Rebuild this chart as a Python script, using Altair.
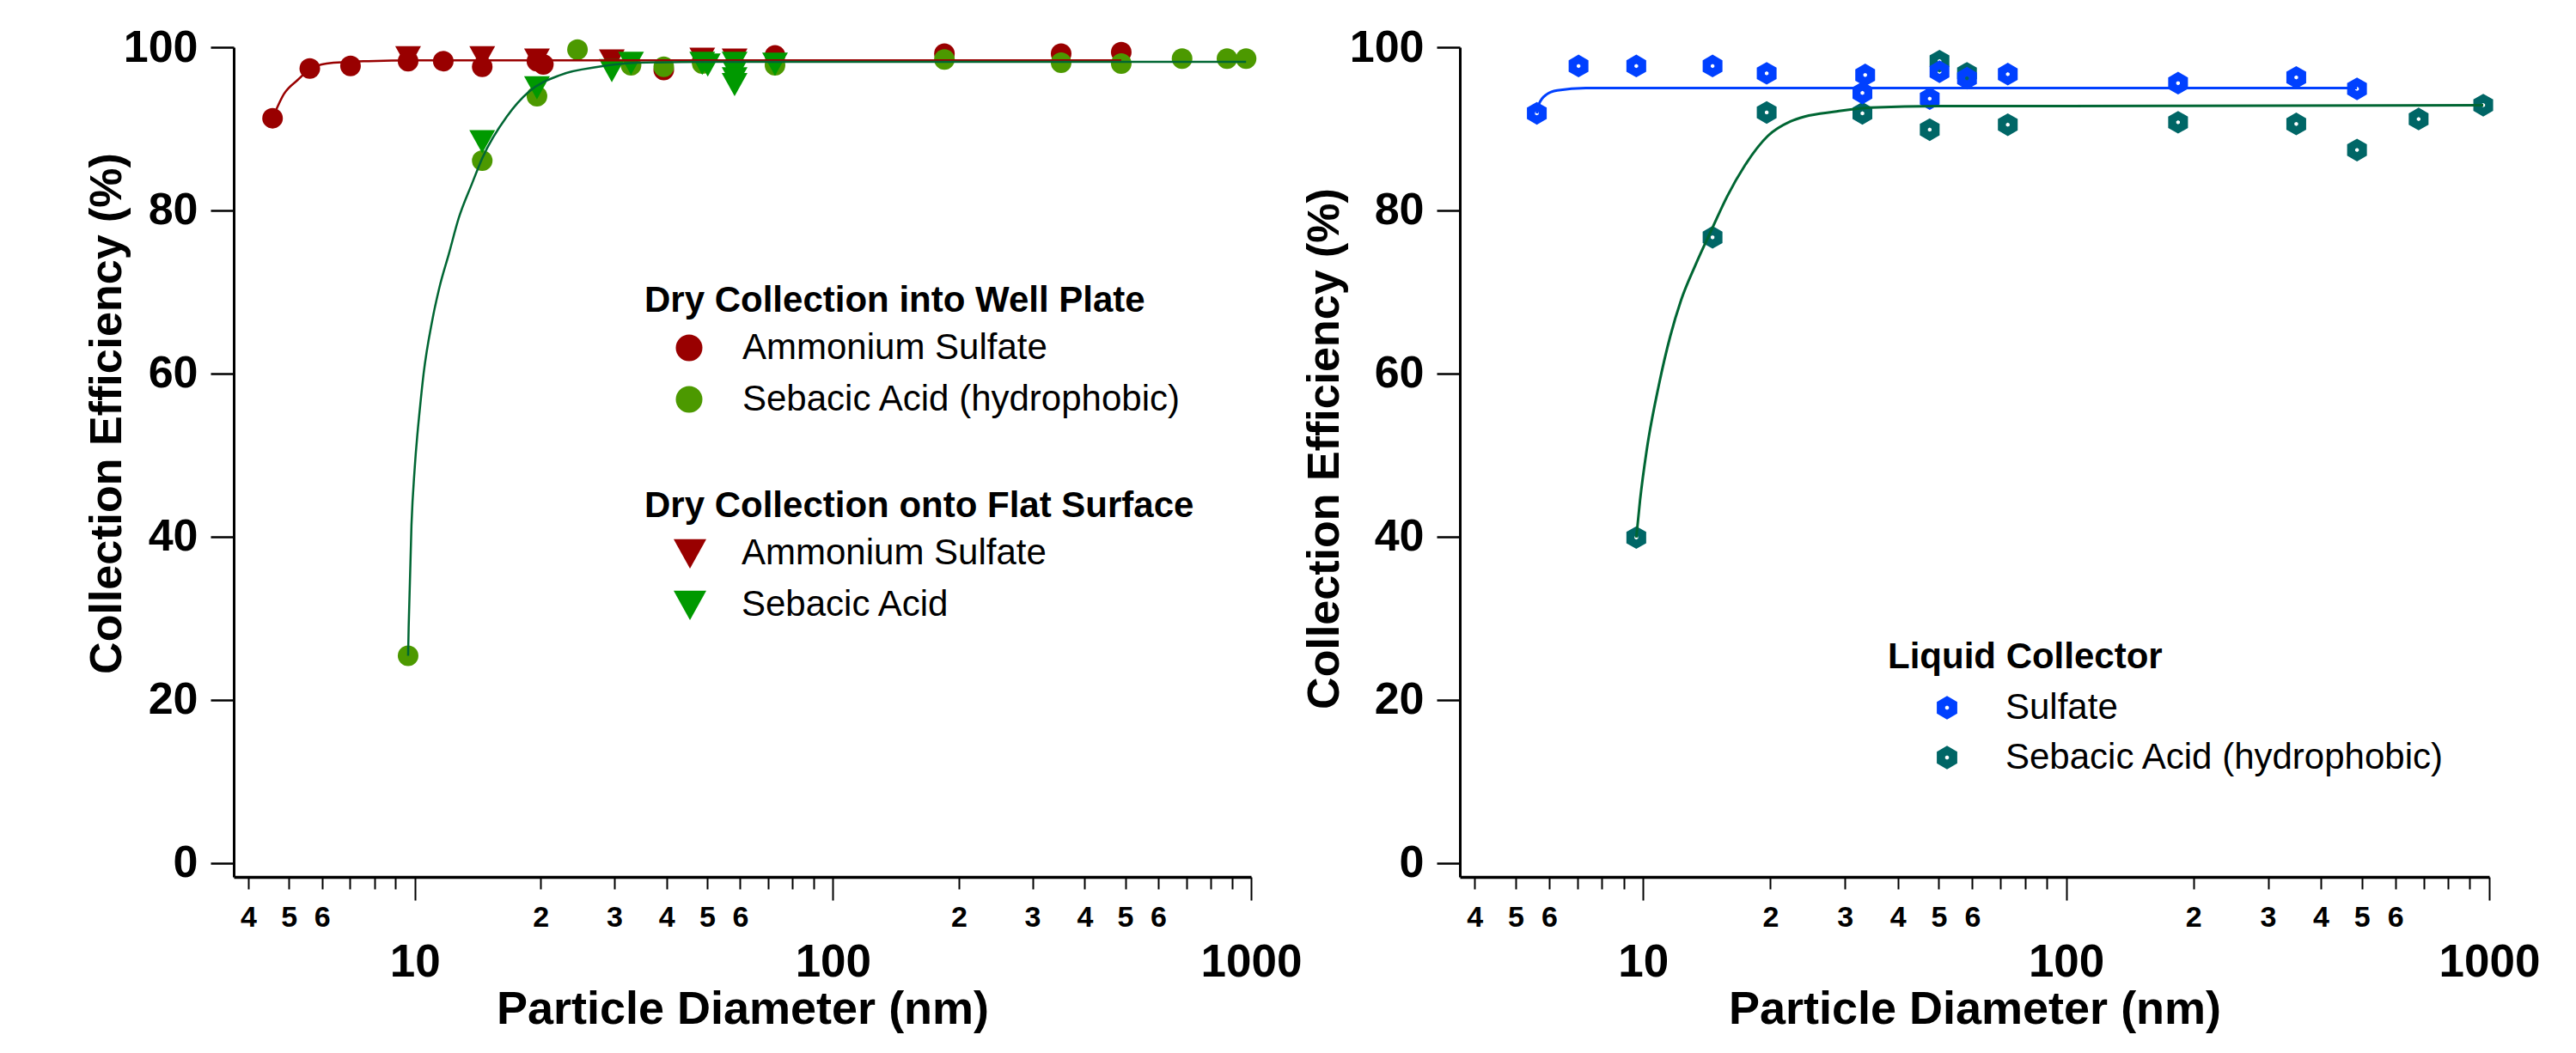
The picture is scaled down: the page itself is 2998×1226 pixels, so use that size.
import altair as alt
import pandas as pd

# ---------------- data ----------------
# Left panel – dry collection into well plate (circles)
AS_WELL_D = [4.57, 5.61, 7.02, 9.64, 11.7, 14.5, 19.6, 20.3, 39.4, 48.7, 72.7, 184.8, 351.4, 489.3]
AS_WELL_V = [91.3, 97.4, 97.7, 98.3, 98.3, 97.6, 98.3, 97.9, 97.2, 98.3, 99.0, 99.2, 99.2, 99.4]
SA_WELL_D = [9.64, 14.5, 19.6, 24.5, 32.9, 39.4, 48.7, 72.7, 184.8, 351.4, 489.3, 684, 876, 973]
SA_WELL_V = [25.4, 86.1, 94.0, 99.7, 97.8, 97.6, 98.0, 97.8, 98.5, 98.1, 98.0, 98.6, 98.6, 98.6]
# Left panel – dry collection onto flat surface (triangles)
AS_FLAT_D = [9.64, 14.5, 19.6, 29.6, 48.7, 58.2]
AS_FLAT_V = [98.8, 98.8, 98.5, 98.4, 98.6, 98.5]
SA_FLAT_D = [14.5, 19.6, 29.6, 32.9, 48.7, 50.2, 58.2, 58.2, 58.2, 58.2, 72.7]
SA_FLAT_V = [88.5, 95.1, 97.2, 98.1, 98.1, 97.9, 98.1, 97.1, 96.2, 95.5, 98.0]
# Left panel – fitted curves
AS_FIT_D = [4.57, 4.87, 5.25, 5.61, 6.15, 7.75, 10, 30, 100, 489.3]
AS_FIT_V = [91.3, 94.3, 96.0, 97.3, 98.0, 98.3, 98.4, 98.4, 98.4, 98.4]
SA_FIT_D = [9.64, 9.67, 9.82, 10.0, 10.3, 10.5, 11.0, 11.46, 12.07, 12.73, 13.71, 14.5,
            16.6, 18.8, 22.3, 27.5, 34, 50, 100, 300, 973]
SA_FIT_V = [25.4, 28.9, 41.4, 48.5, 56.0, 60.0, 66.4, 70.6, 74.7, 79.0, 83.3, 86.4,
            91.5, 94.6, 96.6, 97.6, 98.1, 98.2, 98.2, 98.2, 98.2]

# Right panel – liquid collector (hexagons)
SUL_D = [5.61, 7.04, 9.64, 14.6, 19.6, 33.5, 33.0, 47.6, 50.2, 58.3, 72.8, 183.9, 349.9, 487]
SUL_V = [91.9, 97.7, 97.7, 97.7, 96.8, 96.6, 94.4, 93.7, 97.0, 96.2, 96.7, 95.6, 96.3, 94.9]
SEB_D = [9.64, 14.6, 19.6, 33.0, 47.6, 50.2, 58.3, 72.8, 183.9, 349.9, 487, 681, 968]
SEB_V = [39.9, 76.7, 92.0, 91.9, 89.9, 98.3, 96.8, 90.5, 90.8, 90.6, 87.4, 91.2, 92.9]
SUL_FIT_D = [5.61, 5.67, 5.91, 6.27, 7.32, 10, 100, 487]
SUL_FIT_V = [91.9, 93.0, 94.2, 94.7, 95.0, 95.0, 95.0, 95.0]
SEB_FIT_D = [9.64, 9.84, 10.2, 10.9, 11.6, 12.3, 13.3, 14.6, 15.8, 17.4, 19.7, 22.3,
             24.1, 28.4, 34.5, 50, 100, 968]
SEB_FIT_V = [39.9, 44.5, 50.6, 58.6, 64.6, 69.0, 73.3, 77.9, 81.7, 85.5, 89.1, 90.9,
             91.5, 92.1, 92.6, 92.8, 92.8, 92.9]

# Axis ticks / labels
X_TICKS = [4, 5, 6, 7, 8, 9, 10, 20, 30, 40, 50, 60, 70, 80, 90,
           100, 200, 300, 400, 500, 600, 700, 800, 900, 1000]
X_MAJOR = [10, 100, 1000]
X_MINOR_LABELED = [4, 5, 6, 20, 30, 40, 50, 60, 200, 300, 400, 500, 600]
Y_TICKS = [0, 20, 40, 60, 80, 100]

# Series names
AS = "Ammonium Sulfate"
SA_W = "Sebacic Acid (hydrophobic)"
SA_F = "Sebacic Acid"
SUL = "Sulfate"
SEB = "Sebacic Acid (hydrophobic)"

# ---------------- styling ----------------
FONT = "Liberation Sans"
RED = "#990000"
OLIVE = "#4C9900"
GREEN = "#009900"
DKGREEN = "#006633"
BLUE = "#0040FF"
TEAL = "#006666"

HEX = ("M0,-1L0.87,-0.5L0.87,0.5L0,1L-0.87,0.5L-0.87,-0.5Z "
       "M0,-0.18L-0.16,-0.09L-0.16,0.09L0,0.18L0.16,0.09L0.16,-0.09Z")
TRI = "M-1,-0.85L1,-0.85L0,0.95Z"

XMIN, XMAX = 3.69, 1000
YMIN, YMAX = -1.7, 100


def frame(ds, vs, name):
    return pd.DataFrame({"d": ds, "v": vs, "series": name})


major_test = " || ".join(f"datum.value === {m}" for m in X_MAJOR)
minor_list = ",".join(str(m) for m in X_MINOR_LABELED)
label_expr = (f"({major_test}) ? format(datum.value, 'd') : "
              f"(indexof([{minor_list}], datum.value) >= 0 ? "
              f"slice(format(datum.value, 'd'), 0, 1) : '')")


def x_enc():
    return alt.X(
        "d:Q",
        scale=alt.Scale(type="log", domain=[XMIN, XMAX], nice=False),
        axis=alt.Axis(
            values=X_TICKS,
            title="Particle Diameter (nm)",
            labelExpr=label_expr,
            labelFontSize={"condition": {"test": major_test, "value": 53}, "value": 34},
            labelPadding={"condition": {"test": major_test, "value": 46}, "value": 16},
            tickSize={"condition": {"test": major_test, "value": 27}, "value": 14},
            tickWidth=2,
            labelOverlap=False,
            labelFlush=False,
            labelFontWeight="bold",
            titleFontSize=54,
            titleFontWeight="bold",
            titleY=127,
            titleBaseline="top",
            domainWidth=3.5,
        ),
    )


def y_enc(title_x, title_y):
    return alt.Y(
        "v:Q",
        scale=alt.Scale(domain=[YMIN, YMAX], nice=False, zero=False),
        axis=alt.Axis(
            values=Y_TICKS,
            title="Collection Efficiency (%)",
            tickSize=27,
            tickWidth=2.5,
            labelPadding=15,
            labelFontSize=52,
            labelFontWeight="bold",
            titleFontSize=52,
            titleFontWeight="bold",
            titleX=title_x,
            titleY=title_y,
            titleAngle=-90,
            titleAlign="center",
            titleBaseline="middle",
            domainWidth=3,
        ),
    )


W_LEFT, W_RIGHT, H = 1184, 1198, 966
SPACING = 243

# ---------------- left panel ----------------
well = pd.concat([frame(AS_WELL_D, AS_WELL_V, AS), frame(SA_WELL_D, SA_WELL_V, SA_W)])
flat = pd.concat([frame(AS_FLAT_D, AS_FLAT_V, AS), frame(SA_FLAT_D, SA_FLAT_V, SA_F)])

yl = y_enc(-148, 426)

well_pts = alt.Chart(well).mark_circle(size=576, opacity=1).encode(
    x=x_enc(), y=yl,
    color=alt.Color("series:N",
                    scale=alt.Scale(domain=[AS, SA_W], range=[RED, OLIVE]),
                    sort=None,
                    legend=alt.Legend(title="Dry Collection into Well Plate",
                                      orient="none", legendX=478, legendY=275,
                                      symbolSize=961, symbolType="circle",
                                      symbolOffset=31, labelOffset=41,
                                      rowPadding=18, titlePadding=12)),
)
flat_pts = alt.Chart(flat).mark_point(shape=TRI, filled=True, size=900, opacity=1,
                                      strokeWidth=0).encode(
    x=x_enc(), y=yl,
    color=alt.Color("series:N",
                    scale=alt.Scale(domain=[AS, SA_F], range=[RED, GREEN]),
                    sort=None,
                    legend=alt.Legend(title="Dry Collection onto Flat Surface",
                                      orient="none", legendX=478, legendY=514,
                                      symbolSize=1444, symbolType=TRI,
                                      symbolOffset=32, labelOffset=39,
                                      rowPadding=18, titlePadding=12)),
)
as_fit = alt.Chart(frame(AS_FIT_D, AS_FIT_V, AS)).mark_line(
    interpolate="monotone", strokeWidth=2.5).encode(x=x_enc(), y=yl, color=alt.value(RED))
sa_fit = alt.Chart(frame(SA_FIT_D, SA_FIT_V, SA_W)).mark_line(
    interpolate="monotone", strokeWidth=2.5).encode(x=x_enc(), y=yl, color=alt.value(DKGREEN))

left = alt.layer(well_pts, flat_pts, as_fit, sa_fit).resolve_scale(
    color="independent").properties(width=W_LEFT, height=H)

# ---------------- right panel ----------------
liquid = pd.concat([frame(SEB_D, SEB_V, SEB), frame(SUL_D, SUL_V, SUL)])
yr = y_enc(-158, 467)

# legends of a concatenated chart are placed from the first panel's origin
liq_pts = alt.Chart(liquid).mark_point(shape=HEX, filled=True, size=700, opacity=1,
                                       strokeWidth=0).encode(
    x=x_enc(), y=yr,
    color=alt.Color("series:N",
                    scale=alt.Scale(domain=[SUL, SEB], range=[BLUE, TEAL]),
                    legend=alt.Legend(title="Liquid Collector",
                                      orient="none",
                                      legendX=W_LEFT + SPACING + 498, legendY=690,
                                      symbolSize=750, symbolType=HEX,
                                      symbolOffset=48, labelOffset=47,
                                      rowPadding=16, titlePadding=16)),
)
sul_fit = alt.Chart(frame(SUL_FIT_D, SUL_FIT_V, SUL)).mark_line(
    interpolate="monotone", strokeWidth=3).encode(x=x_enc(), y=yr, color=alt.value(BLUE))
seb_fit = alt.Chart(frame(SEB_FIT_D, SEB_FIT_V, SEB)).mark_line(
    interpolate="monotone", strokeWidth=3).encode(x=x_enc(), y=yr, color=alt.value(DKGREEN))

right = alt.layer(liq_pts, sul_fit, seb_fit).properties(width=W_RIGHT, height=H)

chart = alt.hconcat(left, right, spacing=SPACING, bounds="flush").properties(
    padding={"left": 90, "top": 21, "right": 10, "bottom": 10}
).configure_view(stroke=None).configure_axis(
    grid=False,
    domainColor="black",
    tickColor="black",
    labelColor="black",
    titleColor="black",
    labelFont=FONT,
    titleFont=FONT,
).configure_legend(
    titleFont=FONT,
    labelFont=FONT,
    titleFontSize=42,
    titleFontWeight="bold",
    titleColor="black",
    labelFontSize=42,
    labelColor="black",
    padding=0,
    symbolStrokeWidth=0,
    titleLimit=1000,
    labelLimit=1000,
)

chart.save("out.html", embed_options={"renderer": "svg", "actions": False})
